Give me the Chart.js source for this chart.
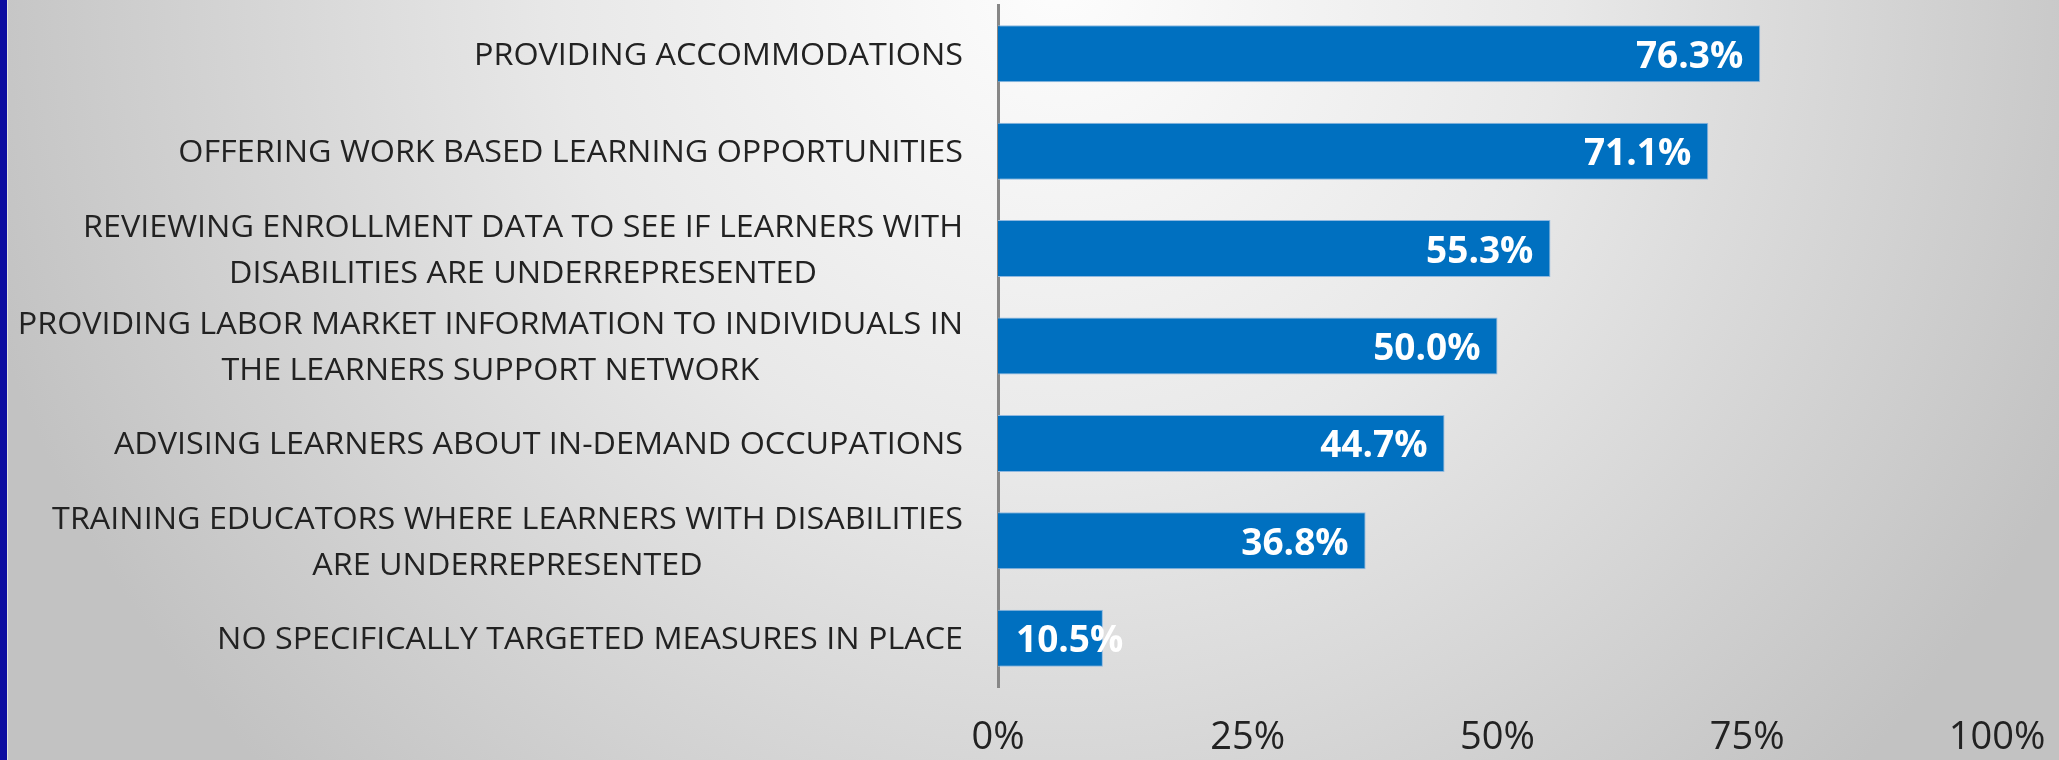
<!DOCTYPE html>
<html>
<head>
<meta charset="utf-8">
<script src="https://cdn.jsdelivr.net/npm/chart.js@4.4.1/dist/chart.umd.min.js"></script>
<style>
  html, body { margin: 0; padding: 0; background: #d0d0d0; }
  canvas { display: block; }
</style>
</head>
<body>
<canvas id="measuresChart" width="2059" height="760"></canvas>
<script>
// Categories (multi-line labels kept as arrays)
const categories = [
    ["PROVIDING ACCOMMODATIONS"],
    ["OFFERING WORK BASED LEARNING OPPORTUNITIES"],
    ["REVIEWING ENROLLMENT DATA TO SEE IF LEARNERS WITH", "DISABILITIES ARE UNDERREPRESENTED"],
    ["PROVIDING LABOR MARKET INFORMATION TO INDIVIDUALS IN", "THE LEARNERS SUPPORT NETWORK"],
    ["ADVISING LEARNERS ABOUT IN-DEMAND OCCUPATIONS"],
    ["TRAINING EDUCATORS WHERE LEARNERS WITH DISABILITIES", "ARE UNDERREPRESENTED"],
    ["NO SPECIFICALLY TARGETED MEASURES IN PLACE"]
];
const percentValues = [76.3, 71.1, 55.3, 50.0, 44.7, 36.8, 10.5];
const xTickValues = [0, 25, 50, 75, 100];

const LABEL_FONT = "31px 'Open Sans'";
const VALUE_FONT = "bold 37px 'Open Sans'";

// slide-style background: radial grey gradient + blue strip on the left
const backgroundPlugin = {
    id: "slideBackground",
    beforeDraw(chart) {
        const ctx = chart.ctx;
        const w = chart.width, h = chart.height;
        ctx.save();
        const g = ctx.createRadialGradient(1060, -20, 0, 1060, -20, 1120);
        g.addColorStop(0, "#fdfdfd");
        g.addColorStop(0.45, "#e8e8e8");
        g.addColorStop(1, "#c2c2c2");
        ctx.fillStyle = g;
        ctx.fillRect(0, 0, w, h);
        ctx.fillStyle = "#0c0ca0";
        ctx.fillRect(0, 0, 7, h);
        ctx.fillStyle = "rgba(255,255,255,0.5)";
        ctx.fillRect(7, 0, 1, h);
        ctx.restore();
    }
};

// category labels: first line right aligned, following lines centred under it
const categoryLabelPlugin = {
    id: "categoryLabels",
    afterDraw(chart) {
        const ctx = chart.ctx;
        const yScale = chart.scales.y;
        const rightEdge = chart.chartArea.left - 35;
        const lineHeight = 46;
        ctx.save();
        ctx.font = LABEL_FONT;
        ctx.fillStyle = "#222222";
        ctx.textBaseline = "alphabetic";
        ctx.textAlign = "center";
        const sx = 489 / ctx.measureText("PROVIDING ACCOMMODATIONS").width;
        categories.forEach((lines, i) => {
            const yc = yScale.getPixelForValue(i);
            const widest = Math.max(...lines.map(l => ctx.measureText(l).width)) * sx;
            const cx = rightEdge - widest / 2;
            const firstY = yc - (lines.length - 1) * lineHeight / 2 + 11;
            lines.forEach((line, j) => {
                ctx.save();
                ctx.translate(cx, firstY + j * lineHeight);
                ctx.scale(sx, 1);
                ctx.fillText(line, 0, 0);
                ctx.restore();
            });
        });
        ctx.restore();
    }
};

// white value labels at the inner end of each bar
const valueLabelPlugin = {
    id: "valueLabels",
    afterDatasetsDraw(chart) {
        const ctx = chart.ctx;
        const meta = chart.getDatasetMeta(0);
        ctx.save();
        ctx.font = VALUE_FONT;
        ctx.fillStyle = "#ffffff";
        ctx.textBaseline = "alphabetic";
        meta.data.forEach((bar, i) => {
            const text = percentValues[i].toFixed(1) + "%";
            const tw = ctx.measureText(text).width;
            const y = bar.y + 14;
            if (tw + 35 <= bar.x - bar.base) {
                ctx.textAlign = "right";
                ctx.fillText(text, bar.x - 17, y);
            } else {
                ctx.textAlign = "left";
                ctx.fillText(text, bar.base + 18, y);
            }
        });
        ctx.restore();
    }
};

const ctx = document.getElementById("measuresChart").getContext("2d");
new Chart(ctx, {
    type: "bar",
    data: {
        labels: categories,
        datasets: [{
            data: percentValues,
            backgroundColor: "#0070c0",
            borderColor: "#8fb8e0",
            borderWidth: 1,
            borderSkipped: "left",
            barPercentage: 0.585,
            categoryPercentage: 1
        }]
    },
    options: {
        indexAxis: "y",
        responsive: false,
        animation: false,
        layout: {padding: {left: 0, right: 62, top: 5, bottom: 0}},
        plugins: {legend: {display: false}, tooltip: {enabled: false}},
        scales: {
            x: {
                min: 0, max: 100,
                afterBuildTicks: s => { s.ticks = xTickValues.map(v => ({value: v})); },
                afterFit: s => { s.height = 73; s.paddingLeft = 0; s.paddingRight = 0; },
                grid: {display: false, drawTicks: false},
                border: {display: false},
                ticks: {
                    padding: 28,
                    color: "#222222",
                    font: {family: "'Open Sans'", size: 38},
                    callback: v => v + "%"
                }
            },
            y: {
                afterFit: s => { s.width = 998; s.paddingTop = 0; s.paddingBottom = 0; },
                grid: {display: false, drawTicks: false},
                border: {display: true, color: "#878787", width: 3},
                ticks: {display: false}
            }
        }
    },
    plugins: [backgroundPlugin, categoryLabelPlugin, valueLabelPlugin]
});
</script>
</body>
</html>
